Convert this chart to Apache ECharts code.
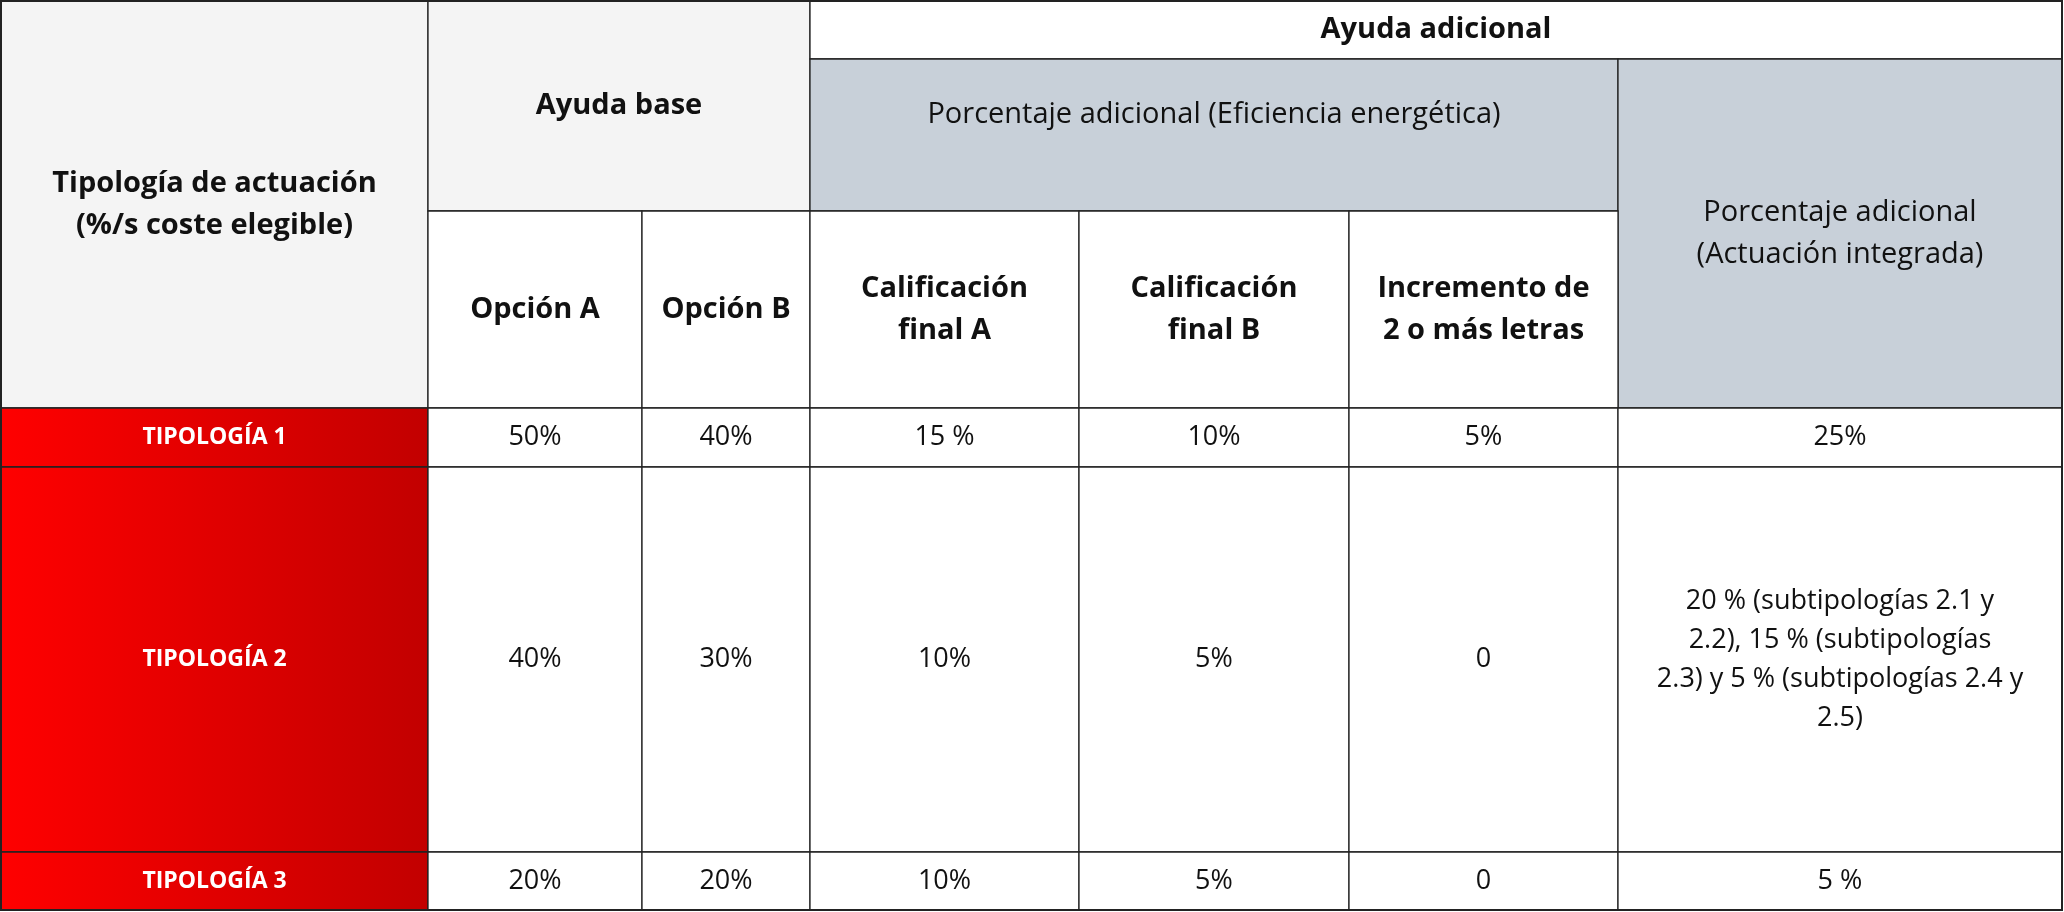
<!DOCTYPE html>
<html><head><meta charset="utf-8">
<script src="https://cdn.jsdelivr.net/npm/echarts@6/dist/echarts.min.js"></script>
<style>html,body{margin:0;padding:0;background:#fff}#c{width:2064px;height:912px}</style>
</head><body><div id="c"></div>
<script>
// ---- data ----
var topHeaders = ["Tipología de actuación\n(%/s coste elegible)", "Ayuda base", "Ayuda adicional"];
var groupHeaders = ["Porcentaje adicional (Eficiencia energética)", "Porcentaje adicional\n(Actuación integrada)"];
var subHeaders = ["Opción A", "Opción B", "Calificación\nfinal A", "Calificación\nfinal B", "Incremento de\n2 o más letras"];
var rowLabels = ["TIPOLOGÍA 1", "TIPOLOGÍA 2", "TIPOLOGÍA 3"];
var optionA = ["50%", "40%", "20%"];
var optionB = ["40%", "30%", "20%"];
var finalA = ["15 %", "10%", "10%"];
var finalB = ["10%", "5%", "5%"];
var increment = ["5%", "0", "0"];
var integrated = ["25%", "20 % (subtipologías 2.1 y\n2.2), 15 % (subtipologías\n2.3) y 5 % (subtipologías 2.4 y\n2.5)", "5 %"];

// ---- layout ----
var colEdges = [1, 428, 642, 810, 1079, 1349, 1618, 2062];
var rowEdges = [1, 59, 211, 408, 467, 852, 910];
var FONT = "'Open Sans', sans-serif";
var GRAY = "#f4f4f4", BLUE = "#c8d0d9", LINE = "#222";
var redGrad = {type:'linear', x:0, y:0, x2:1, y2:0, colorStops:[{offset:0,color:'#ff0000'},{offset:1,color:'#c20000'}]};

var cells = [];
function cell(r0, r1, c0, c1, text, fill, weight, size, color, dy) {
  cells.push({r0:r0, r1:r1, c0:c0, c1:c1, text:text, fill:fill, weight:weight, size:size, color:color||'#111', dy:dy||0});
}
cell(0,3,0,1, topHeaders[0], GRAY, 'bold', 29);
cell(0,2,1,3, topHeaders[1], GRAY, 'bold', 29);
cell(0,1,3,7, topHeaders[2], '#fff', 'bold', 29);
cell(1,2,3,6, groupHeaders[0], BLUE, 'normal', 29, null, -20);
cell(1,3,6,7, groupHeaders[1], BLUE, 'normal', 29);
subHeaders.forEach(function(s,i){ cell(2,3,1+i,2+i, s, '#fff', 'bold', 29); });
var cols = [optionA, optionB, finalA, finalB, increment, integrated];
rowLabels.forEach(function(lbl, r){
  cell(3+r,4+r,0,1, lbl, redGrad, 'bold', 23, '#fff');
  cols.forEach(function(arr, c){ cell(3+r,4+r,1+c,2+c, arr[r], '#fff', 'normal', 27); });
});

var elements = [];
cells.forEach(function(c){
  var x = colEdges[c.c0], y = rowEdges[c.r0], w = colEdges[c.c1]-x, h = rowEdges[c.r1]-y;
  elements.push({type:'rect', shape:{x:x, y:y, width:w, height:h}, style:{fill:c.fill, stroke:LINE, lineWidth:1.3}});
  elements.push({type:'text', x:x+w/2, y:y+h/2+c.dy, style:{text:c.text, fill:c.color, font:c.weight+' '+c.size+'px '+FONT, textAlign:'center', textVerticalAlign:'middle', lineHeight:Math.round(c.size*1.45)}});
});
elements.push({type:'rect', shape:{x:1, y:1, width:2061, height:909}, style:{fill:'none', stroke:LINE, lineWidth:2}});

var chart = echarts.init(document.getElementById('c'));
chart.setOption({animation:false, graphic:{elements:elements}});
</script></body></html>
